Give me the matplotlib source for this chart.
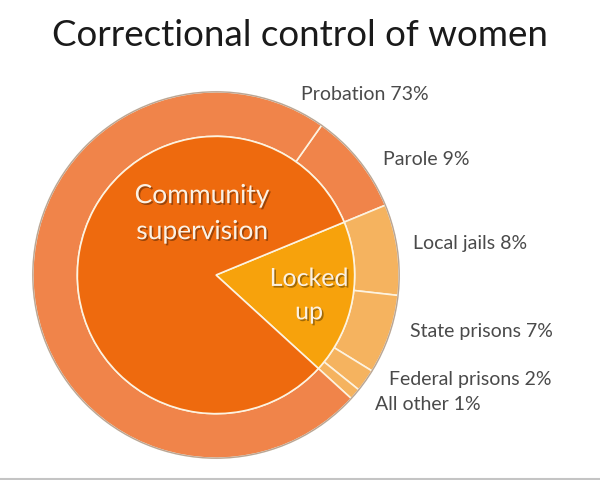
import matplotlib
matplotlib.use("Agg")
import matplotlib.pyplot as plt
import matplotlib.patheffects as pe
from matplotlib.patches import Circle
from matplotlib.lines import Line2D

plt.rcParams['font.family'] = ['Lato', 'DejaVu Sans']

# data
inner_labels = ["Locked\nup", "Community\nsupervision"]
inner_values = [18, 82]
outer_labels = ["Parole", "Local jails", "State prisons", "Federal prisons", "All other", "Probation"]
outer_values = [9, 8, 7, 2, 1, 73]

inner_colors = ["#f7a20c", "#ee6a0e"]
outer_colors = ["#f0844a", "#f5b35f", "#f5b35f", "#f5b35f", "#f5b35f", "#f0844a"]

fig = plt.figure(figsize=(6, 4.8), dpi=100)
fig.patch.set_facecolor("white")

# pie axes placed so the circle is centred at (216, 275) px, radius 185 px
ax = fig.add_axes([31 / 600, 20 / 480, 370 / 600, 370 / 480])
ring = 0.243
start = 54.8

ax.pie(outer_values, radius=1.0, colors=outer_colors, startangle=start,
       counterclock=False,
       wedgeprops=dict(width=ring, edgecolor="#fdf3e0", linewidth=1.2))
ax.pie(inner_values, radius=1.0 - ring, colors=inner_colors,
       startangle=start - outer_values[0] * 3.6, counterclock=False,
       wedgeprops=dict(edgecolor="#fdf3e0", linewidth=1.2))
ax.add_patch(Circle((0, 0), 1.0, fill=False, edgecolor="#b8a596", linewidth=1.0))
ax.set_xlim(-1.01, 1.01)
ax.set_ylim(-1.01, 1.01)
ax.set_aspect("equal")
ax.axis("off")

# text inside the pie
shadow = [pe.SimplePatchShadow(offset=(1.2, -1.2), shadow_rgbFace="black", alpha=0.35),
          pe.Normal()]
inner_pos = [(0.508, -0.11), (-0.075, 0.335)]
inner_sizes = [18, 19]
for lab, (x, y), fs in zip(inner_labels, inner_pos, inner_sizes):
    ax.text(x, y, lab, ha="center", va="center", fontsize=fs, color="#fbf1e4",
            linespacing=1.55, path_effects=shadow)

# outside labels
outer_pos = [(0.914, 0.632), (1.076, 0.173), (1.059, -0.308),
             (0.946, -0.573), (0.870, -0.708), (0.465, 0.984)]
for lab, val, (x, y) in zip(outer_labels, outer_values, outer_pos):
    ax.text(x, y, f"{lab} {val}%", ha="left", va="center", fontsize=14,
            color="#4a4a4a", clip_on=False)

fig.text(0.5, 1 - 36 / 480, "Correctional control of women", ha="center",
         va="center", fontsize=26.5, color="#1a1a1a")

fig.add_artist(Line2D([0, 1], [1.5 / 480, 1.5 / 480], color="#c4c4c4", linewidth=1.5))

fig.savefig("out.png", dpi=100, facecolor="white")
